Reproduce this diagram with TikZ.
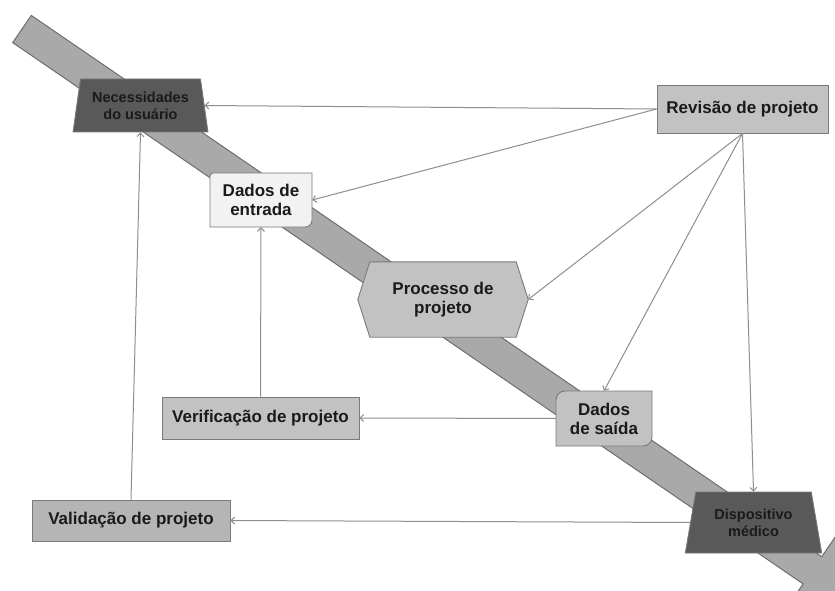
\documentclass[tikz,border=0pt]{standalone}
\usepackage{fontspec}
\setmainfont{Liberation Sans}
\usetikzlibrary{shapes.geometric,arrows.meta,calc}
\definecolor{bandfill}{HTML}{A9A9A9}
\definecolor{banddraw}{HTML}{6E6E6E}
\definecolor{linegray}{HTML}{8E8E8E}
\definecolor{boxdraw}{HTML}{7A7A7A}
\definecolor{darkfill}{HTML}{595959}
\definecolor{midfill}{HTML}{C2C2C2}
\definecolor{valfill}{HTML}{B5B5B5}
\definecolor{lightfill}{HTML}{F2F2F2}
\definecolor{txt}{HTML}{1A1A1A}
\begin{document}
\begin{tikzpicture}[x=1pt,y=-1pt,
  lbl/.style={font=\bfseries\fontsize{17}{19}\selectfont, text=txt, align=center, inner sep=0pt},
  boxnode/.style={lbl, draw=boxdraw, line width=0.9pt},
  shapefill/.style={draw=boxdraw, line width=0.9pt},
  trapnode/.style={trapezium, trapezium stretches=true, draw=boxdraw, fill=darkfill, line width=0.9pt,
    font=\bfseries\fontsize{14.5}{17}\selectfont, text=txt, align=center, inner sep=0pt},
  conn/.style={draw=linegray, line width=1pt, -{Straight Barb[length=3.5pt,width=7pt]}}
]
\useasboundingbox (0,0) rectangle (835,591);
\clip (0,0) rectangle (835,591);
\fill[white] (0,0) rectangle (835,591);

% big diagonal arrow
\filldraw[fill=bandfill, draw=banddraw, line width=1pt]
  (31.3,15.4) -- (821.7,556.7) -- (835.0,537.3) -- (867.6,608.1)
  -- (789.8,603.3) -- (803.1,583.9) -- (12.7,42.6) -- cycle;

% trapezoids
\node[trapnode, minimum width=135pt, minimum height=53pt, trapezium left angle=77.7, trapezium right angle=77.7]
  (nec) at (140.5,105.5) {Necessidades\\do usuário};
\node[trapnode, minimum width=137pt, minimum height=61pt, trapezium left angle=75.7, trapezium right angle=75.7]
  (dis) at (753.5,522.5) {Dispositivo\\médico};

% rectangles
\node[boxnode, fill=midfill, minimum width=171pt, minimum height=48pt] (rev) at (742.5,109) {Revisão de projeto};
\node[boxnode, fill=midfill, minimum width=197pt, minimum height=42pt] (ver) at (260.5,418) {Verificação de projeto};
\node[boxnode, fill=valfill, minimum width=198pt, minimum height=41pt] (val) at (131,520.5) {Validação de projeto};

% diagonally rounded boxes
\filldraw[shapefill, fill=lightfill]
  (210,227) -- (210,176) .. controls (210,174.5) and (211.5,173) .. (213,173) -- (312,173)
  -- (312,220) .. controls (312,224) and (309,227) .. (305,227) -- cycle;
\node[lbl, minimum width=102pt, minimum height=54pt] (den) at (261,200) {Dados de\\entrada};
\filldraw[shapefill, fill=midfill]
  (556,446) -- (556,400) .. controls (556,395) and (560,391) .. (565,391) -- (652,391)
  -- (652,437) .. controls (652,442) and (648,446) .. (643,446) -- cycle;
\node[lbl, minimum width=96pt, minimum height=55pt] (dsa) at (604,418.5) {Dados\\de saída};

% hexagon: process
\node[draw=none, minimum width=170pt, minimum height=75pt, inner sep=0pt] (proc) at (443,299.5) {};
\filldraw[shapefill, fill=midfill]
  (proc.west) -- ($(proc.north west)+(12,0)$) -- ($(proc.north east)+(-12,0)$) -- (proc.east)
  -- ($(proc.south east)+(-12,0)$) -- ($(proc.south west)+(12,0)$) -- cycle;
\node[lbl] (proctxt) at (proc.center) {Processo de\\projeto};

% connectors
\draw[conn] (rev.west) -- (nec.east);
\draw[conn] (rev.west) -- (den.east);
\draw[conn] (rev.south) -- (proc.east);
\draw[conn] (rev.south) -- (dsa.north);
\draw[conn] (rev.south) -- (dis.north);
\draw[conn] (dsa.west) -- (ver.east);
\draw[conn] (ver.north) -- (den.south);
\draw[conn] (dis.west) -- (val.east);
\draw[conn] (val.north) -- (nec.south);
\end{tikzpicture}
\end{document}
